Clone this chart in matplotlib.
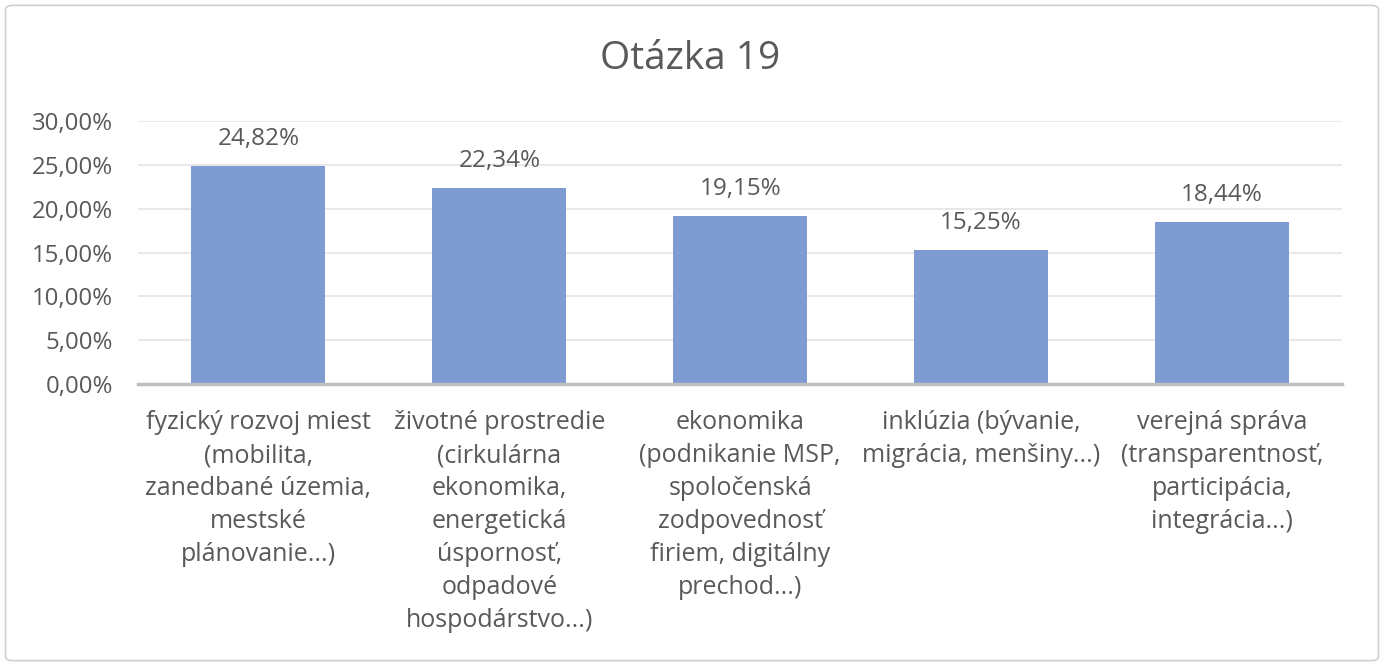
import matplotlib
matplotlib.use("Agg")
import matplotlib.pyplot as plt
from matplotlib.patches import FancyBboxPatch
from matplotlib.ticker import FuncFormatter

categories = [
    "fyzický rozvoj miest\n(mobilita,\nzanedbané územia,\nmestské\nplánovanie...)",
    "životné prostredie\n(cirkulárna\nekonomika,\nenergetická\núspornosť,\nodpadové\nhospodárstvo...)",
    "ekonomika\n(podnikanie MSP,\nspoločenská\nzodpovednosť\nfiriem, digitálny\nprechod...)",
    "inklúzia (bývanie,\nmigrácia, menšiny...)",
    "verejná správa\n(transparentnosť,\nparticipácia,\nintegrácia...)",
]
values = [24.82, 22.34, 19.15, 15.25, 18.44]
yticks = [0, 5, 10, 15, 20, 25, 30]
title = "Otázka 19"

plt.rcParams['font.family'] = ['Open Sans', 'DejaVu Sans']
txt = '#595959'

fig = plt.figure(figsize=(13.84, 6.66), dpi=100)
fig.patches.append(FancyBboxPatch((0.004, 0.008), 0.992, 0.984, boxstyle="round,pad=0,rounding_size=0.006",
                                  transform=fig.transFigure, facecolor='none', edgecolor='#d0d0d0', lw=1.2,
                                  zorder=10))
ax = fig.add_axes([0.0997, 0.4234, 0.8703, 0.3949])
ax.set_facecolor('none')
x = list(range(len(values)))
bars = ax.bar(x, values, width=0.556, color='#7F9CD2', zorder=3)
ax.set_xlim(-0.5, len(values) - 0.5)
ax.set_ylim(0, 30)
ax.set_yticks(yticks)
ax.yaxis.set_major_formatter(FuncFormatter(lambda v, p: f"{v:.2f}%".replace('.', ',')))
ax.grid(axis='y', color='#e6e6e6', lw=1.3, zorder=0)
for s in ['top', 'right', 'left']:
    ax.spines[s].set_visible(False)
ax.spines['bottom'].set_color('#bfbfbf')
ax.spines['bottom'].set_linewidth(2.5)
ax.spines['bottom'].set_zorder(4)
ax.tick_params(axis='y', length=0, labelsize=17.3, colors=txt, pad=18)
ax.tick_params(axis='x', length=0, labelsize=18, colors=txt, pad=19)
ax.set_xticks(x)
ax.set_xticklabels(categories, linespacing=1.42, va='top')
for xi, v in zip(x, values):
    ax.annotate(f"{v:.2f}%".replace('.', ','), (xi, v), xytext=(0, 11), textcoords='offset points',
                ha='center', va='bottom', fontsize=17.5, color=txt)
fig.text(0.4986, 0.911, title, ha='center', va='center', fontsize=28, color=txt)
fig.savefig('out.png', dpi=100)
